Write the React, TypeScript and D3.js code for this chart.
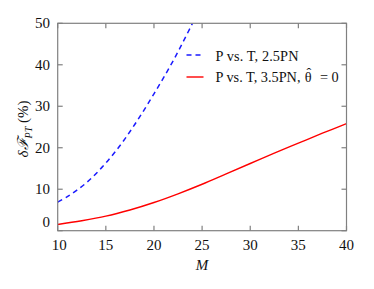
import React from "react";
import * as d3 from "d3";

const xTicks = [10, 15, 20, 25, 30, 35, 40];
const yTicks = [0, 10, 20, 30, 40, 50];
const massBlue = [10, 11, 12, 13, 14, 15, 16, 17, 18, 19, 20, 21, 22, 23, 24];
const errBlue = [6.9, 8.2, 9.8, 11.6, 13.8, 16.3, 19.1, 22.2, 25.6, 29.2, 33.0, 36.9, 41.0, 45.4, 50.0];
const massRed = [10, 12.5, 15, 17.5, 20, 22.5, 25, 27.5, 30, 32.5, 35, 37.5, 40];
const errRed = [1.5, 2.4, 3.5, 5.0, 6.8, 8.9, 11.2, 13.7, 16.2, 18.7, 21.1, 23.5, 25.8];
const legendLabels = ["P vs. T, 2.5PN", "P vs. T, 3.5PN,"];

const F = "Liberation Serif";

export default function App() {
  const W = 374, H = 289;
  const L = 57.7, R = 346.5, T = 23.3, B = 230.7;
  const x = d3.scaleLinear().domain([10, 40]).range([L, R]);
  const y = d3.scaleLinear().domain([0, 50]).range([B, T]);
  const line = (xs: number[], ys: number[]) =>
    d3.line<number>().x((_, i) => x(xs[i])).y((d) => y(d)).curve(d3.curveCatmullRom.alpha(0.5))(ys) || "";
  const frame = "#808080";
  const tick = 5;
  return (
    <svg width={W} height={H} style={{ position: "absolute", left: 0, top: 0, background: "#fff" }}>
      <defs>
        <clipPath id="plot">
          <rect x={L} y={T} width={R - L} height={B - T} />
        </clipPath>
      </defs>
      <g clipPath="url(#plot)">
        <path d={line(massBlue, errBlue)} fill="none" stroke="#1a1aff" strokeWidth={1.5} strokeDasharray="5,4" />
        <path d={line(massRed, errRed)} fill="none" stroke="#ff0000" strokeWidth={1.4} />
      </g>
      <rect x={L} y={T} width={R - L} height={B - T} fill="none" stroke={frame} strokeWidth={1.2} />
      {xTicks.map((t) => (
        <g key={"x" + t}>
          <line x1={x(t)} x2={x(t)} y1={B} y2={B - tick} stroke={frame} strokeWidth={1.2} />
          <line x1={x(t)} x2={x(t)} y1={T} y2={T + tick} stroke={frame} strokeWidth={1.2} />
          <text x={x(t) + (t === 10 ? 1.5 : 0)} y={250} fontFamily={F} fontSize={15} textAnchor="middle" fill="#111">{t}</text>
        </g>
      ))}
      {yTicks.map((t) => (
        <g key={"y" + t}>
          <line x1={L} x2={L + tick} y1={y(t)} y2={y(t)} stroke={frame} strokeWidth={1.2} />
          <line x1={R} x2={R - tick} y1={y(t)} y2={y(t)} stroke={frame} strokeWidth={1.2} />
          <text x={50} y={y(t) + 5 - (t === 0 ? 9 : 0)} fontFamily={F} fontSize={15} textAnchor="end" fill="#111">{t}</text>
        </g>
      ))}
      <text x={202} y={270} fontFamily={F} fontSize={15} fontStyle="italic" textAnchor="middle" fill="#111">M</text>
      <text transform="translate(28,129) rotate(-90)" fontFamily={F} fontSize={15} textAnchor="middle" fill="#111">
        <tspan fontStyle="italic">δℱ</tspan>
        <tspan fontSize={10} fontStyle="italic" dy={4}>PT</tspan>
        <tspan dy={-4}> (%)</tspan>
      </text>
      <line x1={186.5} x2={203.5} y1={55} y2={55} stroke="#1a1aff" strokeWidth={1.5} strokeDasharray="5,4" />
      <text x={215.5} y={60.5} fontFamily={F} fontSize={14.3} fill="#111" textLength={83} lengthAdjust="spacing">{legendLabels[0]}</text>
      <line x1={186.5} x2={203.5} y1={77} y2={77} stroke="#ff0000" strokeWidth={1.4} />
      <text y={82.3} fontFamily={F} fontSize={14.3} fill="#111">
        <tspan x={215.5} textLength={85} lengthAdjust="spacing">{legendLabels[1]}</tspan>
        <tspan x={304.8}>θ</tspan>
        <tspan x={306.6} dy={-4.3}>ˆ</tspan>
        <tspan x={320} dy={4.3}>=</tspan>
        <tspan x={331.5}>0</tspan>
      </text>
    </svg>
  );
}
